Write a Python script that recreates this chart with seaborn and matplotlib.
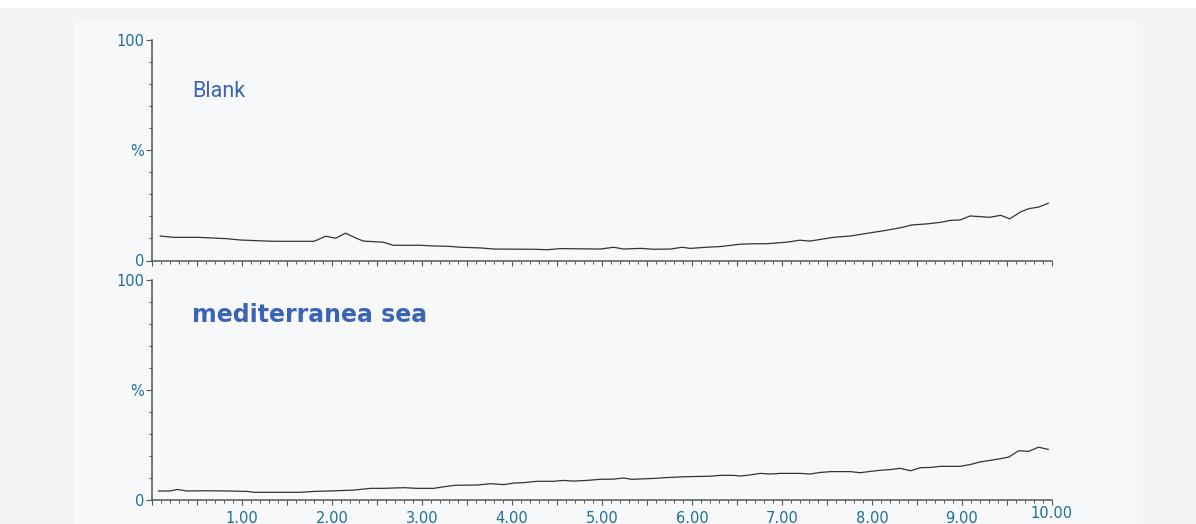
import numpy as np
import pandas as pd
import matplotlib
matplotlib.use("Agg")
import matplotlib.pyplot as plt
from matplotlib.patches import Rectangle
from matplotlib.ticker import MultipleLocator, FuncFormatter, FixedLocator
import seaborn as sns

# --- data (retention time in min, relative abundance in %) ---
blank_time = [0.09, 0.24, 0.52, 0.83, 0.98, 1.28, 1.39, 1.80, 1.93, 2.04, 2.15, 2.28,
              2.35, 2.57, 2.68, 2.98, 3.13, 3.31, 3.43, 3.65, 3.80, 4.24, 4.39, 4.54,
              4.98, 5.13, 5.24, 5.43, 5.57, 5.76, 5.89, 5.98, 6.20, 6.31, 6.54, 6.68,
              6.83, 7.05, 7.20, 7.31, 7.57, 7.76, 7.94, 8.13, 8.31, 8.44, 8.61, 8.76,
              8.87, 8.98, 9.09, 9.20, 9.31, 9.43, 9.53, 9.65, 9.74, 9.85, 9.96]
blank_pct = [11.1, 10.5, 10.5, 9.9, 9.3, 8.8, 8.7, 8.7, 11.0, 10.1, 12.4, 9.9,
             8.8, 8.3, 6.9, 6.9, 6.6, 6.4, 6.0, 5.7, 5.2, 5.1, 4.9, 5.4,
             5.2, 6.0, 5.2, 5.5, 5.1, 5.2, 6.0, 5.5, 6.1, 6.3, 7.4, 7.6,
             7.6, 8.3, 9.2, 8.8, 10.5, 11.1, 12.3, 13.5, 14.8, 16.1, 16.6, 17.3,
             18.2, 18.4, 20.2, 19.9, 19.6, 20.5, 18.9, 22.0, 23.5, 24.2, 26.0]

sea_time = [0.07, 0.20, 0.28, 0.39, 0.57, 0.83, 1.06, 1.13, 1.65, 1.80, 1.98, 2.24,
            2.43, 2.57, 2.80, 2.94, 3.13, 3.24, 3.37, 3.61, 3.76, 3.91, 4.02, 4.13,
            4.28, 4.46, 4.57, 4.68, 4.83, 4.98, 5.13, 5.24, 5.33, 5.57, 5.72, 5.94,
            6.20, 6.31, 6.46, 6.54, 6.65, 6.76, 6.87, 6.98, 7.20, 7.31, 7.42, 7.54,
            7.76, 7.87, 7.98, 8.09, 8.20, 8.31, 8.43, 8.54, 8.65, 8.76, 8.98, 9.09,
            9.20, 9.31, 9.43, 9.52, 9.63, 9.74, 9.85, 9.96]
sea_pct = [4.1, 4.1, 4.8, 4.1, 4.2, 4.1, 3.9, 3.5, 3.5, 3.9, 4.1, 4.5,
           5.3, 5.3, 5.6, 5.3, 5.3, 6.0, 6.7, 6.8, 7.4, 7.0, 7.7, 7.9,
           8.5, 8.5, 8.9, 8.6, 8.9, 9.4, 9.5, 10.0, 9.4, 9.8, 10.2, 10.6,
           10.8, 11.2, 11.2, 10.9, 11.4, 12.1, 11.8, 12.1, 12.1, 11.8, 12.5, 12.9,
           12.9, 12.4, 13.0, 13.5, 13.8, 14.4, 13.3, 14.7, 14.8, 15.3, 15.3, 16.1,
           17.3, 18.0, 18.8, 19.5, 22.4, 22.1, 24.0, 23.0]

panel_titles = ["Blank", "mediterranea sea"]
y_ticks = [0, 50, 100]
y_ticklabels = ["0", "%", "100"]
x_major = list(range(1, 11))

TICK_COLOR = "#1f6f9b"
TITLE_COLOR = "#3b64b4"
LINE_COLOR = "#333333"

sns.set_style("ticks")
plt.rcParams["font.family"] = ["DejaVu Sans"]

W, H = 1196, 524
fig = plt.figure(figsize=(W / 100, H / 100), dpi=100)
fig.patch.set_facecolor("#f2f4f6")

# white strip at the top and the slightly lighter inner panel
fig.patches.append(Rectangle((0, 1 - 8 / H), 1, 8 / H, transform=fig.transFigure,
                             facecolor="white", edgecolor="none", zorder=-2))
fig.patches.append(Rectangle((74 / W, 0), (1137 - 74) / W, 1 - 22 / H,
                             transform=fig.transFigure, facecolor="#f7f8fa",
                             edgecolor="none", zorder=-1))

left, width = 152 / W, 900 / W
ax_top = fig.add_axes([left, 1 - 260.5 / H, width, 220.5 / H])
ax_bot = fig.add_axes([left, 1 - 500 / H, width, 220 / H])

frames = [pd.DataFrame({"time": blank_time, "pct": blank_pct}),
          pd.DataFrame({"time": sea_time, "pct": sea_pct})]

for ax, df in zip([ax_top, ax_bot], frames):
    ax.set_facecolor("none")
    sns.lineplot(data=df, x="time", y="pct", ax=ax, color=LINE_COLOR, linewidth=0.9)
    ax.set_xlim(0, 10)
    ax.set_ylim(0, 100)
    ax.set_xlabel("")
    ax.set_ylabel("")
    for side in ["top", "right"]:
        ax.spines[side].set_visible(False)
    for side in ["left", "bottom"]:
        ax.spines[side].set_color("#555555")
        ax.spines[side].set_linewidth(1.1)

    ax.yaxis.set_major_locator(FixedLocator(y_ticks))
    ax.set_yticklabels(y_ticklabels)
    ax.yaxis.set_minor_locator(MultipleLocator(10))
    ax.xaxis.set_major_locator(MultipleLocator(0.5))
    ax.xaxis.set_minor_locator(MultipleLocator(0.1))
    ax.tick_params(axis="y", which="major", length=4, width=0.8, color="#555555",
                   labelsize=10.5, labelcolor=TICK_COLOR, pad=1.5)
    ax.tick_params(axis="y", which="minor", length=2, width=0.8, color="#555555")
    ax.tick_params(axis="x", which="major", length=3.5, width=0.8, color="#555555",
                   labelsize=10.5, labelcolor=TICK_COLOR, pad=4.5)
    ax.tick_params(axis="x", which="minor", length=2, width=0.7, color="#555555")

ax_top.tick_params(axis="x", labelbottom=False)
ax_bot.xaxis.set_major_formatter(
    FuncFormatter(lambda v, p: f"{v:.2f}" if v in x_major else ""))
# the 10.00 label sits a little higher in the reference
fig.canvas.draw()
for tick in ax_bot.xaxis.get_major_ticks():
    if abs(tick.get_loc() - 10) < 1e-6:
        tick.set_pad(0.5)

fig.text(192 / W, 1 - 97 / H, panel_titles[0], fontsize=15.5, color=TITLE_COLOR,
         family=["Roboto", "DejaVu Sans"])
fig.text(192 / W, 1 - 321.5 / H, panel_titles[1], fontsize=17,
         fontweight="bold", color=TITLE_COLOR)

fig.savefig("out.png", dpi=100, facecolor=fig.get_facecolor())
